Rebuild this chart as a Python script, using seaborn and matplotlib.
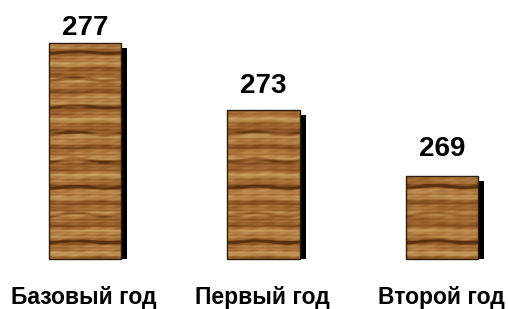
import numpy as np
import matplotlib
matplotlib.use("Agg")
import matplotlib.pyplot as plt
import seaborn as sns
import pandas as pd
from matplotlib.colors import LinearSegmentedColormap
from matplotlib.patches import Rectangle

# ---- data ----
categories = ["Базовый год", "Первый год", "Второй год"]
values = [277, 273, 269]
axis_base = 264

# ---- style ----
label_gap_px = [8, 17, 20]

sns.set_theme(style="white")
plt.rcParams["font.family"] = ["Liberation Sans", "DejaVu Sans"]

W, H, DPI = 508, 309, 100
fig = plt.figure(figsize=(W / DPI, H / DPI), dpi=DPI)
fig.patch.set_facecolor("white")
ax = fig.add_axes([0, 0, 1, 1])

df = pd.DataFrame({"cat": categories, "val": values})
sns.barplot(data=df, x="cat", y="val", ax=ax, color="#9a6a3a", width=0.405,
            saturation=1, edgecolor="#2b1d10", linewidth=1.0, errorbar=None)

XL = (-0.476, 2.370)
YL = (260.99, 279.6)

# wood texture (pure styling, deterministic)
yy, xx = np.mgrid[0:H, 0:W].astype(float)
v = (0.52
     + 0.20 * np.sin(2 * np.pi * yy / 19.0 + 0.35 * np.sin(2 * np.pi * xx / 80.0))
     + 0.12 * np.sin(2 * np.pi * yy / 7.9 + 0.4 * np.sin(2 * np.pi * xx / 43.0) + 1.0)
     + 0.07 * np.sin(2 * np.pi * yy / 3.1 + 0.2 * np.sin(xx / 6.0))
     + 0.06 * np.sin(2 * np.pi * xx / 17.0 + yy / 1.7) * np.sin(2 * np.pi * yy / 11.0))
dark = np.sin(2 * np.pi * yy / 27.0 + 0.3 * np.sin(2 * np.pi * xx / 60.0) + 2.0)
v = v - 0.40 * np.clip(dark - 0.88, 0, None) / 0.12
v = np.clip(v, 0, 1)
wood = LinearSegmentedColormap.from_list(
    "wood", ["#5a3010", "#85501e", "#a26a33", "#bb8a4e", "#cfa76a"])

for p in list(ax.patches):
    p.set_y(axis_base)
    p.set_height(p.get_height() - axis_base)
    x0, y0, w, h = p.get_x(), p.get_y(), p.get_width(), p.get_height()
    # shadow
    dx = 6 / 178.5
    dy = 5 / 16.6
    ax.add_patch(Rectangle((x0 + dx, y0), w, h - dy, facecolor="black",
                           edgecolor="none", zorder=1))
    im = ax.imshow(v, cmap=wood, extent=(XL[0], XL[1], YL[0], YL[1]),
                   origin="upper", aspect="auto", zorder=2, interpolation="bilinear")
    im.set_clip_path(p)
    p.set_facecolor("none")
    p.set_zorder(3)

ax.set_xlim(*XL)
ax.set_ylim(*YL)
ax.axis("off")

for i, (cat, val) in enumerate(zip(categories, values)):
    ax.annotate(f"{val}", xy=(i, val), xytext=(0, label_gap_px[i] * 72 / DPI),
                textcoords="offset points", ha="center", va="baseline",
                fontsize=20, fontweight="bold", color="black")
    ax.annotate(cat, xy=(i, axis_base), xytext=(-1 * 72 / DPI, -38 * 72 / DPI),
                textcoords="offset points", ha="center", va="center",
                fontsize=16.5, fontweight="bold", color="black")

fig.savefig("out.png", dpi=DPI, facecolor="white")
